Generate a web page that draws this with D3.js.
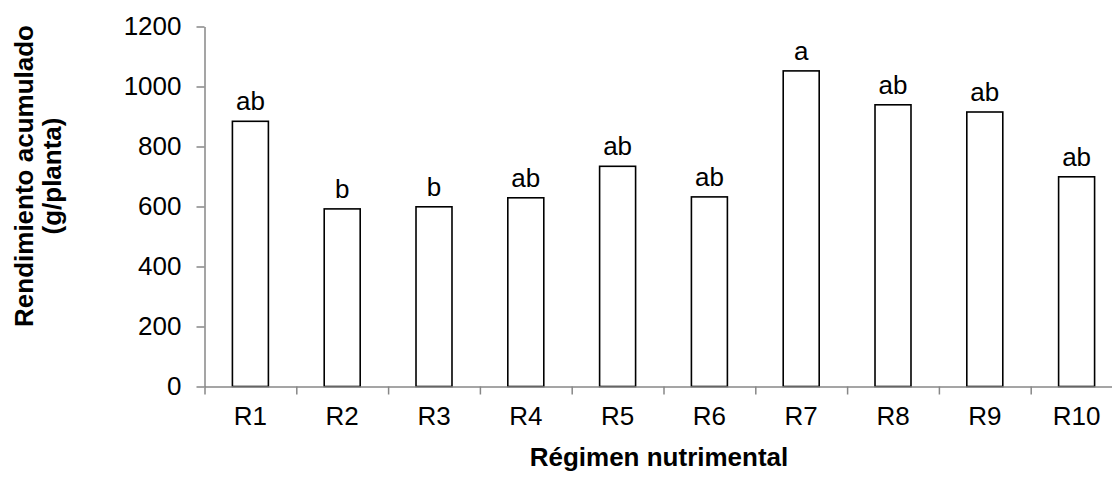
<!DOCTYPE html>
<html>
<head>
<meta charset="utf-8">
<script src="https://cdn.jsdelivr.net/npm/d3@7"></script>
<style>
  body { margin: 0; background: #fff; }
  svg { display: block; font-family: "Liberation Sans", Arial, sans-serif; }
</style>
</head>
<body>
<svg id="chart" width="1112" height="497"></svg>
<script>
//  data
const categories = ["R1", "R2", "R3", "R4", "R5", "R6", "R7", "R8", "R9", "R10"];
const values = [884, 592, 599, 629, 734, 632, 1052, 939, 915, 699];
const letters = ["ab", "b", "b", "ab", "ab", "ab", "a", "ab", "ab", "ab"];
const yTicks = [0, 200, 400, 600, 800, 1000, 1200];

//  draw bar chart
function draw_chart() {
  const svg = d3.select("#chart");
  const left = 204.5, right = 1122.5, top = 26.5, bottom = 386.5;
  const axisColor = "#878787";

  const x = d3.scaleBand()
    .domain(categories)
    .range([left, right])
    .paddingInner(0.608)
    .paddingOuter(0.304);

  const y = d3.scaleLinear()
    .domain([0, 1200])
    .range([bottom, top]);

  //  x boundaries for tick marks
  const xb = d3.scaleLinear().domain([0, categories.length]).range([left, right]);

  //  bars
  svg.append("g")
    .selectAll("rect")
    .data(values)
    .join("rect")
      .attr("x", (d, i) => x(categories[i]))
      .attr("y", d => y(d))
      .attr("width", x.bandwidth())
      .attr("height", d => y(0) - y(d))
      .attr("fill", "#fff")
      .attr("stroke", "#000")
      .attr("stroke-width", 1.6);

  //  letters above bars
  svg.append("g")
    .selectAll("text")
    .data(values)
    .join("text")
      .attr("x", (d, i) => x(categories[i]) + x.bandwidth() / 2)
      .attr("y", d => y(d) - 11)
      .attr("text-anchor", "middle")
      .style("font-size", "26px")
      .attr("fill", "#000")
      .text((d, i) => letters[i]);

  //  y axis
  const gy = svg.append("g")
    .attr("transform", `translate(${left},0)`)
    .call(d3.axisLeft(y).tickValues(yTicks).tickFormat(d3.format("d"))
      .tickSize(8).tickSizeOuter(0).tickPadding(15));
  gy.selectAll("path, line").attr("stroke", axisColor).attr("stroke-width", 1.5);
  gy.selectAll("text").style("font-size", "26px").attr("fill", "#000")
    .style("font-family", "'Liberation Sans', Arial, sans-serif");

  //  x axis tick marks on band edges
  const gxb = svg.append("g")
    .attr("transform", `translate(0,${bottom})`)
    .call(d3.axisBottom(xb).tickValues(d3.range(0, categories.length + 1)).tickSize(8).tickSizeOuter(0).tickFormat(""));
  gxb.selectAll("path, line").attr("stroke", axisColor).attr("stroke-width", 1.5);

  //  x axis labels
  const gx = svg.append("g")
    .attr("transform", `translate(0,${bottom})`)
    .call(d3.axisBottom(x).tickSize(0).tickPadding(20));
  gx.select(".domain").remove();
  gx.selectAll("text").style("font-size", "26px").attr("fill", "#000")
    .style("font-family", "'Liberation Sans', Arial, sans-serif");

  //  axis titles
  svg.append("text")
    .attr("x", 659)
    .attr("y", 466)
    .attr("text-anchor", "middle")
    .style("font-size", "26px")
    .style("font-weight", "bold")
    .text("Régimen nutrimental");

  const yt = svg.append("text")
    .attr("transform", "translate(0,176) rotate(-90)")
    .attr("text-anchor", "middle")
    .style("font-size", "26px")
    .style("font-weight", "bold");
  yt.append("tspan").attr("x", 0).attr("y", 33).text("Rendimiento acumulado");
  yt.append("tspan").attr("x", 0).attr("y", 61).text("(g/planta)");
}

draw_chart();
</script>
</body>
</html>
